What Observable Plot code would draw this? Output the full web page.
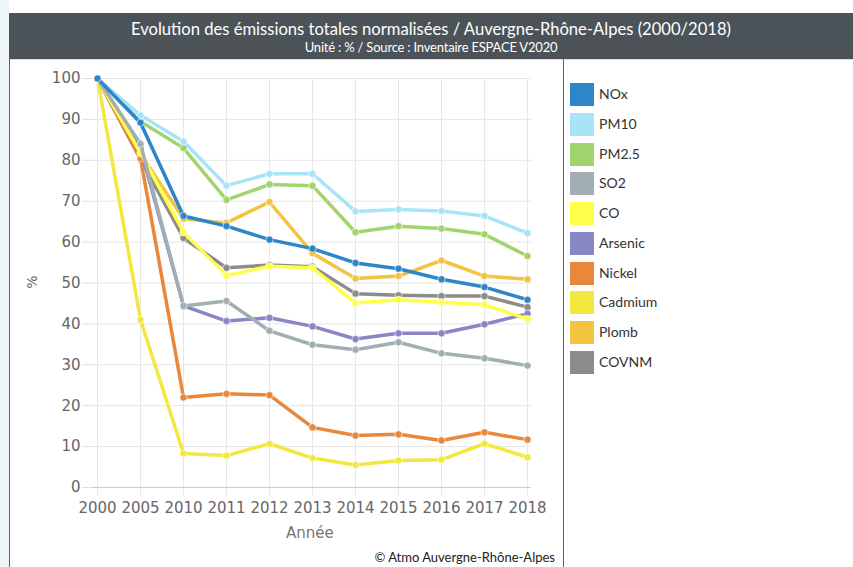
<!DOCTYPE html>
<html><head><meta charset="utf-8">
<script src="https://cdn.jsdelivr.net/npm/d3@7"></script>
<script src="https://cdn.jsdelivr.net/npm/@observablehq/plot@0.6"></script>
<style>
body{margin:0;width:853px;height:567px;overflow:hidden;position:relative;background:#fff;font-family:Lato,sans-serif;}
#strip{position:absolute;left:0;top:0;width:9px;height:567px;background:#eef6fa;}
#bar{position:absolute;left:9px;top:13px;width:844px;height:46px;background:#4b5359;color:#fff;text-align:center;}
#title{position:absolute;left:0;right:0;top:6px;font-size:16.6px;line-height:20px;}
#sub{position:absolute;left:0;right:0;top:27px;font-size:13px;line-height:15px;letter-spacing:-0.2px;}
#barline{position:absolute;left:9px;top:59px;width:844px;height:1px;background:#d9dee0;}
#lline{position:absolute;left:9px;top:59px;width:1px;height:508px;background:#5a6166;}
#sep{position:absolute;left:563px;top:59px;width:1px;height:508px;background:#5a6166;}
#chart{position:absolute;left:10px;top:60px;}
#ylabel{position:absolute;left:25px;top:274px;font-family:"DejaVu Sans";font-size:14px;color:#666;transform:rotate(-90deg);}
#xlabel{position:absolute;left:286px;top:524px;font-family:"DejaVu Sans";font-size:15px;color:#777;}
#credit{position:absolute;right:298px;top:549px;font-size:13px;line-height:16px;color:#222;}
.lg{position:absolute;left:570px;height:23px;}
.lg .sw{position:absolute;left:0;top:0;width:24px;height:23px;}
.lg .tx{position:absolute;left:29px;top:2px;font-size:14px;line-height:18px;color:#333;white-space:nowrap;}
</style></head><body>
<div id="strip"></div>
<div id="bar"><div id="title">Evolution des émissions totales normalisées / Auvergne-Rhône-Alpes (2000/2018)</div><div id="sub">Unité : % / Source : Inventaire ESPACE V2020</div></div>
<div id="barline"></div><div id="lline"></div><div id="sep"></div>
<div id="chart"></div>
<div id="legend"></div>
<div id="ylabel">%</div><div id="xlabel">Année</div>
<div id="credit">© Atmo Auvergne-Rhône-Alpes</div>
<script>
const years = ["2000","2005","2010","2011","2012","2013","2014","2015","2016","2017","2018"];
const yTicks = [0,10,20,30,40,50,60,70,80,90,100];
const seriesNames = ["NOx","PM10","PM2.5","SO2","CO","Arsenic","Nickel","Cadmium","Plomb","COVNM"];
const seriesColors = ["#2e86c8","#a8e4f8","#a2d46e","#a1afb2","#ffff4a","#8986c6","#e8883c","#f2e840","#f2c442","#8c8c8c"];
const NOx     = [100, 89.2, 66.4, 63.9, 60.6, 58.4, 54.9, 53.5, 50.9, 49.0, 45.9];
const PM10    = [100, 91.0, 84.6, 73.8, 76.7, 76.7, 67.5, 68.0, 67.6, 66.4, 62.2];
const PM25    = [100, 89.5, 83.0, 70.3, 74.1, 73.8, 62.4, 63.9, 63.3, 61.9, 56.6];
const SO2     = [100, 84.0, 44.4, 45.6, 38.3, 34.9, 33.7, 35.5, 32.8, 31.6, 29.8];
const CO      = [100, 81.8, 62.4, 51.8, 54.1, 53.7, 45.1, 45.9, 45.3, 44.7, 41.2];
const Arsenic = [100, 83.0, 44.4, 40.7, 41.5, 39.4, 36.3, 37.7, 37.7, 39.9, 42.5];
const Nickel  = [100, 80.5, 22.0, 22.9, 22.6, 14.7, 12.7, 13.0, 11.5, 13.5, 11.7];
const Cadmium = [100, 41.0, 8.3, 7.8, 10.7, 7.2, 5.5, 6.6, 6.8, 10.7, 7.4];
const Plomb   = [100, 81.6, 65.7, 64.7, 69.8, 57.3, 51.1, 51.7, 55.5, 51.7, 50.9];
const COVNM   = [100, 80.2, 61.0, 53.7, 54.4, 54.0, 47.4, 47.0, 46.8, 46.8, 44.1];
const seriesValues = [NOx, PM10, PM25, SO2, CO, Arsenic, Nickel, Cadmium, Plomb, COVNM];

const marks = [
  Plot.gridY(yTicks, {stroke:"#e6e6e6", strokeOpacity:1}),
  Plot.gridX(years, {stroke:"#e6e6e6", strokeOpacity:1}),
  Plot.axisY(yTicks, {tickSize:10, tickPadding:2, stroke:"#e0e0e0", fill:"#666", label:null}),
  Plot.axisX(years, {tickSize:8, tickPadding:7, stroke:"#e6e6e6", fill:"#666", label:null}),
  Plot.ruleY([0], {stroke:"#cccccc"})
];
// draw in reverse so the first series (NOx) ends up on top
for (let i = seriesNames.length - 1; i >= 0; i--) {
  const data = years.map((yr, j) => ({year: yr, value: seriesValues[i][j]}));
  marks.push(Plot.line(data, {x:"year", y:"value", stroke: seriesColors[i], strokeWidth:3.5, curve:"linear"}));
  marks.push(Plot.dot(data, {x:"year", y:"value", fill: seriesColors[i], r:3.6, stroke:"#fff", strokeOpacity:0.6, strokeWidth:1}));
}

const chart = Plot.plot({
  width:553, height:507,
  marginLeft:82, marginRight:32, marginTop:18, marginBottom:80,
  x:{type:"point", domain:years, padding:0},
  y:{domain:[0,100]},
  style:{fontFamily:"DejaVu Sans", fontSize:"15px", color:"#666", background:"transparent", overflow:"visible"},
  marks
});
document.getElementById("chart").appendChild(chart);

const lg = document.getElementById("legend");
seriesNames.forEach((name, i) => {
  const d = document.createElement("div");
  d.className = "lg";
  d.style.top = (83.3 + i*29.7) + "px";
  d.innerHTML = `<div class="sw" style="background:${seriesColors[i]}"></div><div class="tx">${name}</div>`;
  lg.appendChild(d);
});
</script>
</body></html>
